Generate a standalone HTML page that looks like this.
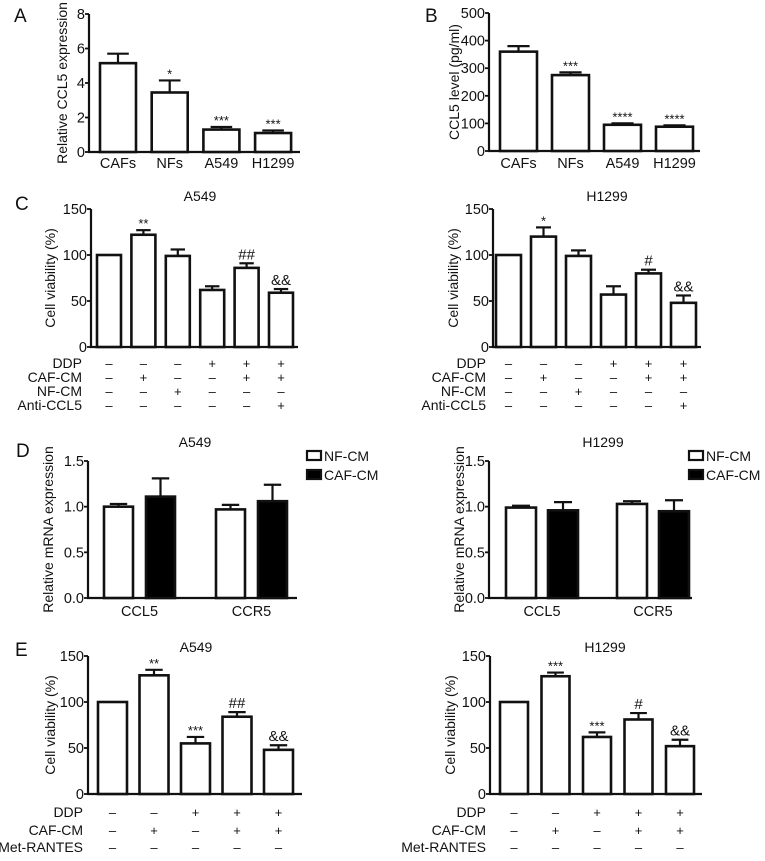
<!DOCTYPE html>
<html><head><meta charset="utf-8"><style>
body{margin:0;background:#fff;}
svg text{font-family:"Liberation Sans",Arial,sans-serif;fill:#111;}
</style></head><body>
<svg id="fig" width="765" height="856" viewBox="0 0 765 856" xmlns="http://www.w3.org/2000/svg"></svg>
<script>
// ---- data ----
const catsAB = ["CAFs","NFs","A549","H1299"];
const aVals = [5.15,3.45,1.3,1.1];
const aErr = [0.55,0.7,0.15,0.15];
const aSig = ["","*","***","***"];
const bVals = [360,275,95,88];
const bErr = [20,10,5,5];
const bSig = ["","***","****","****"];
const cLeftVals = [100,122,99,62,86,59];
const cLeftErr = [0,5,7,4,5,4];
const cLeftSig = ["","**","","","##","&&"];
const cRightVals = [100,120,99,57,80,48];
const cRightErr = [0,10,6,9,4,8];
const cRightSig = ["","*","","","#","&&"];
const cRowLabels = ["DDP","CAF-CM","NF-CM","Anti-CCL5"];
const cRows = [["–","–","–","+","+","+"],["–","+","–","–","+","+"],["–","–","+","–","–","–"],["–","–","–","–","–","+"]];
const dCats = ["CCL5","CCR5"];
const dLeftNF = [1.0,0.97];
const dLeftNFErr = [0.03,0.05];
const dLeftCAF = [1.11,1.06];
const dLeftCAFErr = [0.2,0.18];
const dRightNF = [0.99,1.03];
const dRightNFErr = [0.02,0.03];
const dRightCAF = [0.96,0.95];
const dRightCAFErr = [0.09,0.12];
const eLeftVals = [100,129,55,84,48];
const eLeftErr = [0,6,7,5,5];
const eLeftSig = ["","**","***","##","&&"];
const eRightVals = [100,128,62,81,52];
const eRightErr = [0,4,5,7,7];
const eRightSig = ["","***","***","#","&&"];
const eRowLabels = ["DDP","CAF-CM","Met-RANTES"];
const eRows = [["–","–","+","+","+"],["–","+","–","+","+"],["–","–","–","–","–"]];
const ticksA = [0,2,4,6,8];
const ticksB = [0,100,200,300,400,500];
const ticksCE = [0,50,100,150];
const ticksD = [0,0.5,1.0,1.5];

const svg = document.getElementById('fig');
const NS = "http://www.w3.org/2000/svg";
function mk(tag, attrs, name, txt){
  const el = document.createElementNS(NS, tag);
  for (const k in attrs) el.setAttribute(k, attrs[k]);
  
  
  if (txt !== undefined) el.textContent = txt;
  svg.appendChild(el);
  return el;
}
function axes(p, ticks, fmt, ytitle, ytx, pre){
  const sy = v => p.y0 - (v / p.ymax) * (p.y0 - p.ytop);
  mk('line',{x1:p.ax,y1:p.ytop,x2:p.ax,y2:p.y0+1,stroke:'#111','stroke-width':2.2},pre+'-y-axis');
  mk('line',{x1:p.ax-1,y1:p.y0,x2:p.end,y2:p.y0,stroke:'#111','stroke-width':2.2},pre+'-x-axis');
  ticks.forEach(t=>{
    const y = sy(t);
    mk('line',{x1:p.ax-4,y1:y,x2:p.ax,y2:y,stroke:'#111','stroke-width':1.8},pre+'-y-tick');
    mk('text',{x:p.ax-4,y:y+5,'font-size':14.5,'text-anchor':'end'},pre+'-y-tick-label',fmt(t));
  });
  const cy = (p.ytop+p.y0)/2;
  mk('text',{x:ytx,y:cy,'font-size':14,'text-anchor':'middle',transform:`rotate(-90 ${ytx} ${cy})`},pre+'-y-axis-title',ytitle);
  return sy;
}
function bar(sy, x, w, v, e, fill, pre, sig){
  const top = sy(v), y0 = sy(0);
  if (e > 0){
    const et = sy(v+e);
    mk('line',{x1:x+w/2,y1:et,x2:x+w/2,y2:top,stroke:'#111','stroke-width':2.2},pre+'-error-bar');
    mk('line',{x1:x+w/2-w*0.3,y1:et,x2:x+w/2+w*0.3,y2:et,stroke:'#111','stroke-width':2.2},pre+'-error-cap');
  }
  mk('rect',{x:x,y:top,width:w,height:y0-top,fill:fill,stroke:'#111','stroke-width':2.6},pre);
  if (sig){
    const et = sy(v+e);
    const star = sig.indexOf('*')>=0;
    mk('text',{x:x+w/2,y:et-(star?2:4),'font-size':star?13:15,'text-anchor':'middle'},pre+'-significance',sig);
  }
}
function simple(p, vals, errs, sigs, ticks, fmt, ytitle, ytx, pre){
  const sy = axes(p, ticks, fmt, ytitle, ytx, pre);
  vals.forEach((v,i)=> bar(sy, p.x0+i*p.step, p.w, v, errs[i], '#fff', pre+'-bar-'+(i+1), sigs[i]));
  return sy;
}
function catLabels(p, cats, pre, y){
  cats.forEach((c,i)=> mk('text',{x:p.x0+i*p.step+p.w/2,y:y,'font-size':14.5,'text-anchor':'middle'},pre+'-x-label',c));
}
function table(p, labels, rows, ys, lx, pre){
  labels.forEach((l,r)=>{
    mk('text',{x:lx,y:ys[r],'font-size':14,'text-anchor':'end'},pre+'-row-label',l);
    rows[r].forEach((s,i)=> mk('text',{x:p.x0+i*p.step+p.w/2,y:ys[r],'font-size':13,'text-anchor':'middle'},pre+'-row-mark',s));
  });
}
const intFmt = t=>String(t), decFmt = t=>t.toFixed(1);

// Panel letters
mk('text',{x:14,y:22,'font-size':19},'panel-label-a','A');
mk('text',{x:425,y:22,'font-size':19},'panel-label-b','B');
mk('text',{x:15,y:210,'font-size':19},'panel-label-c','C');
mk('text',{x:16,y:457,'font-size':19},'panel-label-d','D');
mk('text',{x:15,y:656,'font-size':19},'panel-label-e','E');

// A
const pA = {ax:89,y0:152,ytop:14,ymax:8,x0:100,step:51.7,w:36,end:300};
simple(pA,aVals,aErr,aSig,ticksA,intFmt,'Relative CCL5 expression',67,'panel-a');
catLabels(pA,catsAB,'panel-a',168);
// B
const pB = {ax:489,y0:151,ytop:13,ymax:500,x0:500,step:52,w:37,end:700};
simple(pB,bVals,bErr,bSig,ticksB,intFmt,'CCL5 level (pg/ml)',459,'panel-b');
catLabels(pB,catsAB,'panel-b',168);
// C left
const pCL = {ax:91,y0:347,ytop:209,ymax:150,x0:97,step:34.4,w:24,end:298};
simple(pCL,cLeftVals,cLeftErr,cLeftSig,ticksCE,intFmt,'Cell viability (%)',55,'panel-c-a549');
mk('text',{x:200,y:201,'font-size':14,'text-anchor':'middle'},'panel-c-a549-title','A549');
table(pCL,cRowLabels,cRows,[368,382,396,410],82,'panel-c-a549');
// C right
const pCR = {ax:493,y0:347,ytop:209,ymax:150,x0:496,step:35,w:25,end:701};
simple(pCR,cRightVals,cRightErr,cRightSig,ticksCE,intFmt,'Cell viability (%)',458,'panel-c-h1299');
mk('text',{x:607,y:201,'font-size':14,'text-anchor':'middle'},'panel-c-h1299-title','H1299');
table(pCR,cRowLabels,cRows,[368,382,396,410],486,'panel-c-h1299');
// D
function panelD(p, nf, nfe, caf, cafe, ytx, title, tx, legx, pre){
  const sy = axes(p, ticksD, decFmt, 'Relative mRNA expression', ytx, pre);
  nf.forEach((v,i)=> bar(sy, p.x0+i*p.step, p.w, v, nfe[i], '#fff', pre+'-bar-nf-cm-'+dCats[i].toLowerCase()));
  caf.forEach((v,i)=> bar(sy, p.x0+p.gap+i*p.step, p.w, v, cafe[i], '#000', pre+'-bar-caf-cm-'+dCats[i].toLowerCase()));
  dCats.forEach((c,i)=> mk('text',{x:p.x0+i*p.step+(p.gap+p.w)/2,y:p.y0+18,'font-size':14.5,'text-anchor':'middle'},pre+'-x-label',c));
  mk('text',{x:tx,y:447,'font-size':14,'text-anchor':'middle'},pre+'-title',title);
  mk('rect',{x:legx,y:451,width:14,height:9,fill:'#fff',stroke:'#111','stroke-width':2.2},pre+'-legend-swatch-nf-cm');
  mk('text',{x:legx+17,y:461,'font-size':14},pre+'-legend-label-nf-cm','NF-CM');
  mk('rect',{x:legx,y:470,width:14,height:9,fill:'#000',stroke:'#111','stroke-width':2.2},pre+'-legend-swatch-caf-cm');
  mk('text',{x:legx+17,y:480,'font-size':14},pre+'-legend-label-caf-cm','CAF-CM');
}
panelD({ax:88,y0:598,ytop:461,ymax:1.5,x0:104,step:112,gap:42,w:29,end:297},dLeftNF,dLeftNFErr,dLeftCAF,dLeftCAFErr,53,'A549',195,307,'panel-d-a549');
panelD({ax:489,y0:598,ytop:461,ymax:1.5,x0:506,step:111,gap:42,w:30,end:692},dRightNF,dRightNFErr,dRightCAF,dRightCAFErr,464,'H1299',603,689,'panel-d-h1299');
// E
const pEL = {ax:88,y0:794,ytop:656,ymax:150,x0:98,step:41.5,w:29,end:302};
simple(pEL,eLeftVals,eLeftErr,eLeftSig,ticksCE,intFmt,'Cell viability (%)',55,'panel-e-a549');
mk('text',{x:196,y:652,'font-size':14,'text-anchor':'middle'},'panel-e-a549-title','A549');
table(pEL,eRowLabels,eRows,[817,835,852],83,'panel-e-a549');
const pER = {ax:490,y0:794,ytop:656,ymax:150,x0:500,step:41.5,w:28,end:702};
simple(pER,eRightVals,eRightErr,eRightSig,ticksCE,intFmt,'Cell viability (%)',455,'panel-e-h1299');
mk('text',{x:605,y:652,'font-size':14,'text-anchor':'middle'},'panel-e-h1299-title','H1299');
table(pER,eRowLabels,eRows,[817,835,852],486,'panel-e-h1299');
</script>
</body></html>
